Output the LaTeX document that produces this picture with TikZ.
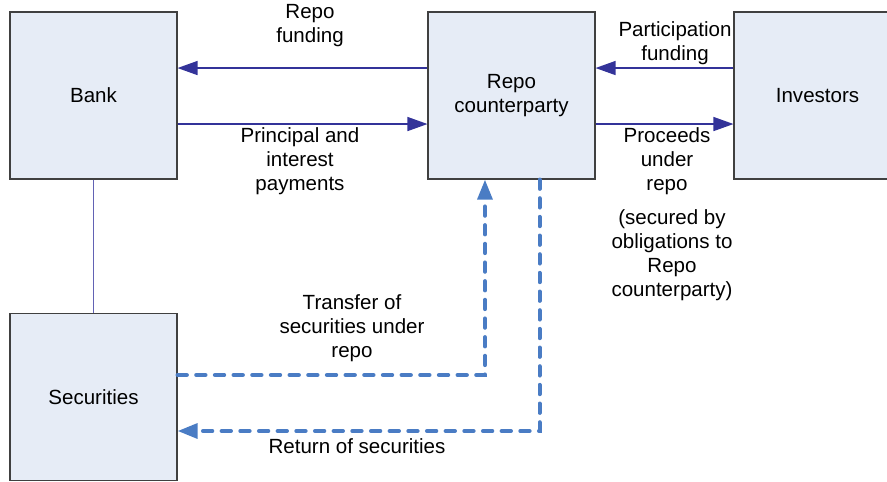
\documentclass[tikz,border=0pt]{standalone}
\usepackage{fontspec}
\setmainfont{Liberation Sans}
\usepackage{xcolor}
\usetikzlibrary{arrows.meta, positioning}

\definecolor{boxfill}{HTML}{E6ECF6}
\definecolor{boxline}{HTML}{404040}
\definecolor{flowblue}{HTML}{333399}
\definecolor{linkblue}{HTML}{6262B4}
\definecolor{dashblue}{HTML}{4A7CC4}

\begin{document}
\begin{tikzpicture}[
        x=0.75pt, y=-0.75pt,
        every node/.style={font=\fontsize{15.4}{18}\selectfont, align=center},
        party/.style={draw=boxline, fill=boxfill, line width=0.8pt, minimum width=125.25pt, minimum height=125.25pt, inner sep=0pt},
        flow/.style={-{Triangle[length=15pt, width=10.5pt]}, flowblue, line width=1pt},
        link/.style={linkblue, line width=1.4pt},
        xfer/.style={-{Triangle[length=15pt, width=11pt]}, dashblue, line width=3pt, dash pattern=on 7pt off 7pt, line cap=round}
    ]
    \useasboundingbox (0,0) rectangle (887,481);

    % parties
    \node[party] (bank) at (93.5,95.5) {Bank};
    \node[party] (repo) at (511.5,95.5) {Repo\\counterparty};
    \node[party] (inv) at (817.5,95.5) {Investors};
    \node[party] (sec) at (93.5,397) {Securities};

    % bank and repo counterparty
    \draw[flow] ([yshift=20.6pt]repo.west) -- ([yshift=20.6pt]bank.east);
    \draw[flow] ([yshift=-21.4pt]bank.east) -- ([yshift=-21.4pt]repo.west);
    \node (repofund) at (310,26) {Repo\\funding};
    \node (payments) at (300,161) {Principal and\\interest\\payments};

    % repo counterparty and investors
    \draw[flow] ([yshift=20.6pt]inv.west) -- ([yshift=20.6pt]repo.east);
    \draw[flow] ([yshift=-21.4pt]repo.east) -- ([yshift=-21.4pt]inv.west);
    \node (partfund) at (675,43.5) {Participation\\funding};
    \node (proceeds) at (667,161) {Proceeds\\under\\repo};
    \node (secured) at (672,255) {(secured by\\obligations to\\Repo\\counterparty)};

    % securities
    \draw[link] (bank) -- (sec);
    \draw[xfer] ([yshift=16.5pt]sec.east) -| ([xshift=-19.9pt]repo.south);
    \draw[xfer] ([xshift=21pt]repo.south) |- ([yshift=-25.5pt]sec.east);
    \node (transfer) at (352,328) {Transfer of\\securities under\\repo};
    \node (return) at (357,446) {Return of securities};

\end{tikzpicture}
\end{document}
